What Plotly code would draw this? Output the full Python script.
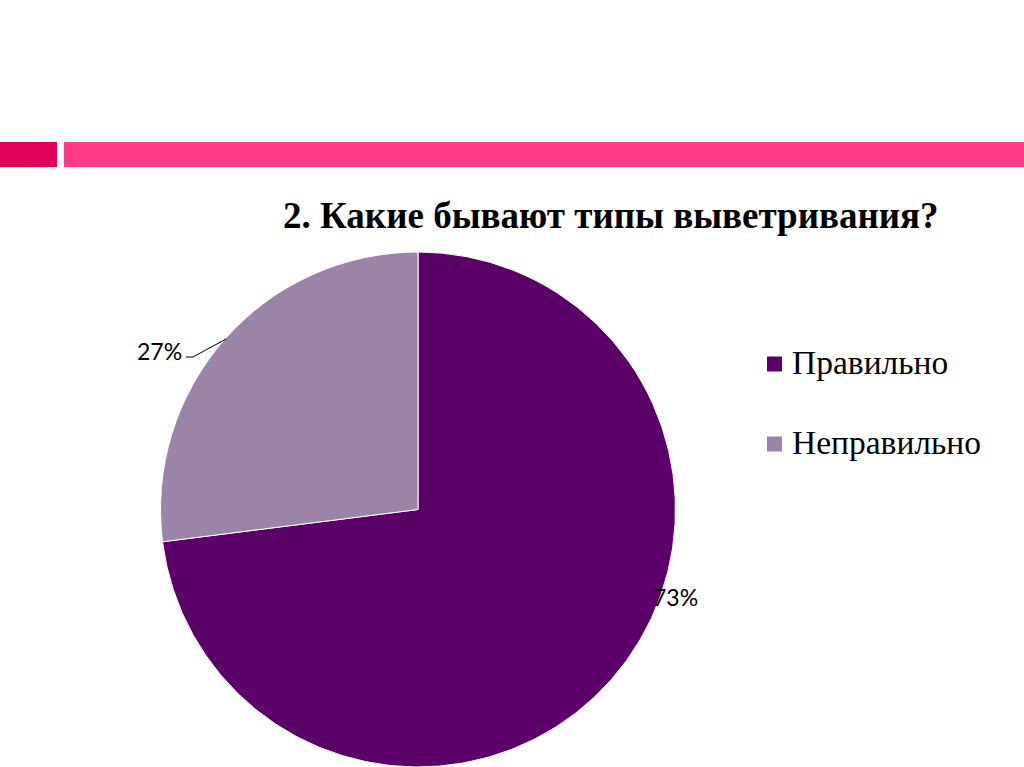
import plotly.graph_objects as go

categories = ["Правильно", "Неправильно"]
values = [73, 27]
colors = ["#5B0069", "#9C84A9"]
title_text = "2. Какие бывают типы выветривания?"

W, H = 1024, 767
def px(x):
    return x / W
def py(y):
    return 1 - y / H

fig = go.Figure()
fig.add_trace(go.Pie(
    labels=categories,
    values=values,
    marker=dict(colors=colors, line=dict(color="white", width=1)),
    sort=False,
    direction="clockwise",
    rotation=0,
    textinfo="none",
    hoverinfo="label+percent",
    showlegend=False,
    domain=dict(x=[px(418 - 260), px(418 + 260)], y=[0, py(252)]),
))

total = sum(values)
pct = [f"{round(v * 100 / total)}%" for v in values]

shapes = [
    dict(type="rect", xref="paper", yref="paper", x0=px(0), x1=px(57), y0=py(167), y1=py(142),
         fillcolor="#E2005B", line=dict(width=0), layer="below"),
    dict(type="rect", xref="paper", yref="paper", x0=px(64), x1=px(1024), y0=py(167), y1=py(142),
         fillcolor="#FF3A88", line=dict(width=0), layer="below"),
    dict(type="path", xref="paper", yref="paper",
         path=f"M {px(186)} {py(357)} L {px(193)} {py(357)} L {px(226)} {py(339)}",
         line=dict(color="black", width=1)),
]

annotations = [
    dict(text=f"<b>{title_text}</b>", xref="paper", yref="paper", x=px(611), y=py(215.5),
         showarrow=False, xanchor="center", yanchor="middle",
         font=dict(family="Liberation Serif", size=37, color="black")),
    dict(text=pct[1], xref="paper", yref="paper", x=px(159), y=py(351),
         showarrow=False, xanchor="center", yanchor="middle",
         font=dict(family="Lato", size=23, color="black")),
    dict(text=pct[0], xref="paper", yref="paper", x=px(675), y=py(597),
         showarrow=False, xanchor="center", yanchor="middle",
         font=dict(family="Lato", size=23, color="black")),
]

legend_y = [364, 444]
for cat, col, ly in zip(categories, colors, legend_y):
    shapes.append(dict(type="rect", xref="paper", yref="paper",
                       x0=px(767), x1=px(782), y0=py(ly + 7.5), y1=py(ly - 7.5),
                       fillcolor=col, line=dict(width=0)))
    annotations.append(dict(text=cat, xref="paper", yref="paper", x=px(790), y=py(ly - 2),
                            showarrow=False, xanchor="left", yanchor="middle",
                            font=dict(family="Liberation Serif", size=33.5, color="black")))

fig.update_layout(
    width=W, height=H,
    margin=dict(l=0, r=0, t=0, b=0),
    paper_bgcolor="white",
    plot_bgcolor="white",
    shapes=shapes,
    annotations=annotations,
)

fig.write_html("out.html",
               config={"displayModeBar": False},
               post_script="document.body.style.margin='0';document.body.style.overflow='hidden';")
